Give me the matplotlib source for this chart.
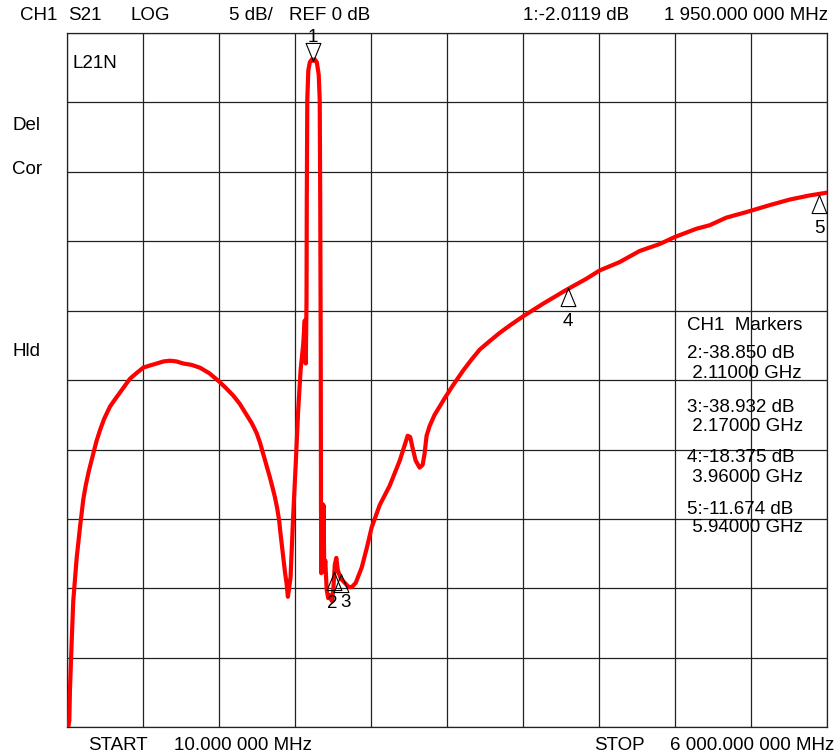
import matplotlib
matplotlib.use('Agg')
import matplotlib.pyplot as plt
from matplotlib.path import Path

plt.rcParams['font.family'] = ['Liberation Sans', 'DejaVu Sans']

# S21 trace (MHz, dB)
freq_mhz = [10, 26, 31, 45, 57, 84, 110, 136, 155, 176, 195, 215, 240, 268, 300,
            347, 385, 425, 465, 504, 555, 609, 660, 715, 770, 820, 870, 924,
            990, 1056, 1130, 1208, 1265, 1318, 1370, 1424, 1465, 1503, 1530,
            1555, 1580, 1608, 1628, 1647, 1665, 1681, 1690, 1700, 1709, 1718,
            1728, 1739, 1750, 1771, 1791, 1813, 1831, 1850, 1870, 1883,
            1891, 1897, 1899, 1903, 1911, 1923, 1939, 1950, 1962, 1978, 1993,
            2001, 2005, 2009, 2011, 2013, 2020, 2025, 2031, 2037, 2045, 2056,
            2068, 2080, 2096, 2108, 2120, 2132, 2144, 2168, 2199, 2230, 2254,
            2285, 2332, 2372, 2411, 2474, 2553, 2632, 2695, 2715, 2734, 2758,
            2789, 2813, 2828, 2844, 2868, 2907, 2987, 3050, 3133, 3200, 3263,
            3340, 3420, 3510, 3606, 3762, 3946, 4104, 4209, 4366, 4524, 4682,
            4800, 4971, 5075, 5207, 5365, 5549, 5706, 5864, 6000]
s21_db = [-50.4, -49.5, -47.3, -43.7, -40.9, -37.8, -35.6, -33.6, -32.6, -31.7,
          -31.0, -30.3, -29.4, -28.6, -27.8, -26.9, -26.4, -25.9, -25.4, -24.9,
          -24.5, -24.1, -23.95, -23.8, -23.65, -23.6, -23.65, -23.8, -23.9,
          -24.1, -24.5, -25.1, -25.6, -26.1, -26.7, -27.5, -28.1, -28.8, -29.5,
          -30.3, -31.1, -32.0, -32.7, -33.4, -34.2, -35.1, -35.9, -36.7, -37.4,
          -38.2, -38.9, -39.6, -40.6, -39.2, -34.9, -30.8, -27.2, -24.3, -22.5,
          -20.7, -23.8, -19.2, -12.0, -4.8, -2.7, -2.1, -1.9, -2.0, -1.9, -2.1,
          -3.0, -4.8, -12.0, -22.8, -33.6, -38.9, -33.9, -38.5, -34.0, -38.8,
          -38.0, -40.1, -40.7, -40.5, -40.9, -40.1, -38.3, -37.8, -38.7, -39.3,
          -39.6, -39.9, -39.9, -39.6, -38.5, -37.1, -35.6, -34.0, -32.6, -30.8,
          -29.0, -29.1, -29.9, -30.8, -31.3, -31.1, -30.3, -29.0, -28.3, -27.5,
          -26.3, -25.4, -24.3, -23.5, -22.8, -22.2, -21.6, -21.0, -20.4, -19.5,
          -18.5, -17.7, -17.1, -16.5, -15.7, -15.2, -14.7, -14.1, -13.85, -13.3,
          -12.9, -12.4, -12.0, -11.7, -11.5]

marker_ids = ['1', '2', '3', '4', '5']
marker_freq = [1950, 2110, 2170, 3960, 5940]
marker_db = [-2.0119, -38.850, -38.932, -18.375, -11.674]

header_texts = ['CH1', 'S21', 'LOG', '5 dB/', 'REF 0 dB', '1:-2.0119 dB',
                '1 950.000 000 MHz']
header_x = [20, 68, 130, 229, 289, 523, 664]
footer_texts = ['START', '10.000 000 MHz', 'STOP', '6 000.000 000 MHz']
footer_x = [88, 174, 594, 670]
side_texts = ['Del', 'Cor', 'Hld']
side_y = [126, 170, 352]
readout_texts = ['CH1  Markers', '2:-38.850 dB', ' 2.11000 GHz',
                 '3:-38.932 dB', ' 2.17000 GHz', '4:-18.375 dB', ' 3.96000 GHz',
                 '5:-11.674 dB', ' 5.94000 GHz']
readout_y = [325, 354, 373, 408, 427, 458, 477, 509, 528]

W, H = 835, 756
fig = plt.figure(figsize=(W / 100, H / 100), dpi=100, facecolor='white')
ax = fig.add_axes([67.3 / W, 1 - 727.3 / H, 759.4 / W, 694.3 / H])
ax.set_xlim(10, 6000)
ax.set_ylim(-50, 0)
ax.set_xticks([10 + i * 599 for i in range(11)])
ax.set_yticks(range(-50, 1, 5))
ax.tick_params(length=0, labelbottom=False, labelleft=False)
ax.grid(True, color='#222222', lw=0.9)
for s in ax.spines.values():
    s.set_color('#222222')
    s.set_linewidth(0.9)

ax.plot(freq_mhz, s21_db, color='#ff0000', lw=3.0, solid_joinstyle='round',
        zorder=3)

# marker triangles, tip on the trace
up_tri = Path([(0, 0), (-0.41, -1), (0.41, -1), (0, 0)])
down_tri = Path([(0, 0), (-0.41, 1), (0.41, 1), (0, 0)])
label_off = {'1': (0, 17), '2': (-1, -22), '3': (3, -21), '4': (0, -24),
             '5': (0, -24)}
for mid, f, v in zip(marker_ids, marker_freq, marker_db):
    mk = down_tri if mid == '1' else up_tri
    ax.plot([f], [v], marker=mk, markersize=26, markerfacecolor='none',
            markeredgecolor='black', markeredgewidth=0.8, zorder=4,
            clip_on=False)
    ax.annotate(mid, (f, v), xytext=label_off[mid], textcoords='offset points',
                ha='center', va='center', fontsize=13.5, annotation_clip=False)

fs = 13.5
for t, x in zip(header_texts, header_x):
    fig.text(x / W, 1 - 15 / H, t, ha='left', va='center', fontsize=fs)
for t, x in zip(footer_texts, footer_x):
    fig.text(x / W, 1 - 745 / H, t, ha='left', va='center', fontsize=fs)
for t, y in zip(side_texts, side_y):
    fig.text(12 / W, 1 - y / H, t, ha='left', va='center', fontsize=fs)
fig.text(73 / W, 1 - 64 / H, 'L21N', ha='left', va='center', fontsize=fs)
for t, y in zip(readout_texts, readout_y):
    fig.text(687 / W, 1 - y / H, t, ha='left', va='center', fontsize=fs)

fig.savefig('out.png', dpi=100, facecolor='white')
